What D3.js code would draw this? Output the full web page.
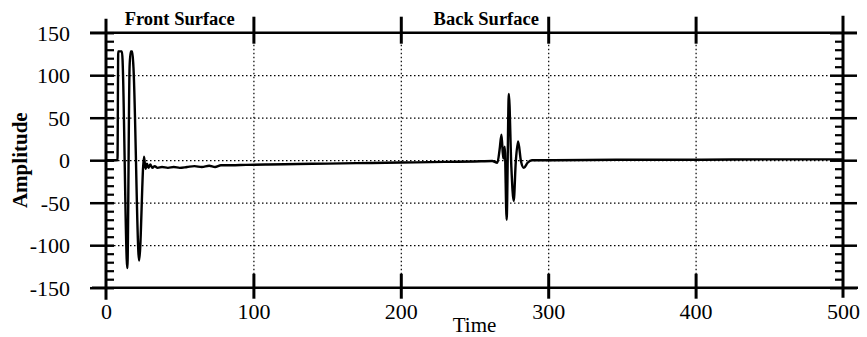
<!DOCTYPE html>
<html>
<head>
<meta charset="utf-8">
<script src="https://cdn.jsdelivr.net/npm/d3@7"></script>
<style>
  html, body { margin: 0; padding: 0; background: #fff; }
  svg { display: block; }
  text { font-family: "Liberation Serif", "Times New Roman", serif; fill: #000; }
</style>
</head>
<body>
<div id="chart"></div>
<script>
// signal (time vs amplitude)
const timeValues = [
  0, 7.8, 8.3, 10.8, 14.5, 16.0, 16.8, 17.8, 18.6, 22.5, 25.8, 26.8, 27.8, 28.8,
  30, 31.5, 33, 35, 38, 42, 46, 50, 55, 60, 65, 70, 74, 78, 85, 95, 110, 130,
  150, 170, 190, 210, 230, 250, 262, 265.5, 267, 268.3, 269.5, 270.5, 271.8,
  273.3, 275, 276.6, 278, 279.6, 281.5, 283.5, 286, 289, 300, 350, 400, 450, 500
];
const amplitudeValues = [
  0, 0, 128, 128, -127, 110, 128, 128, 110, -118, 4, -10, -4, -9,
  -5, -9, -7, -9, -8, -9, -8, -9, -8, -7, -8, -6.5, -8, -6, -6, -5.5, -5, -4.5,
  -4, -3.5, -3, -2.5, -2, -1.5, -1, -3, 12, 30, 2, 16, -70,
  78, -8, -48, -2, 22, -1, -9, -3, 0, 0, 0.5, 0.5, 1, 1
];

const xTicks = [0, 100, 200, 300, 400, 500];
const yTicks = [-150, -100, -50, 0, 50, 100, 150];
const yMinorTicks = d3.range(-150, 151, 10).filter(v => v % 50 !== 0);
const xGrid = [100, 200, 300, 400];
const yGrid = [-100, -50, 0, 50, 100];
const surfaceLabels = ["Front Surface", "Back Surface"];
const surfaceLabelTimes = [50, 258];

const width = 867, height = 337;
const margin = { top: 32.7, right: 24, bottom: 49.3, left: 106 };
const w = width - margin.left - margin.right;
const h = height - margin.top - margin.bottom;

const svg = d3.select("#chart").append("svg")
  .attr("width", width)
  .attr("height", height);

const g = svg.append("g")
  .attr("transform", `translate(${margin.left},${margin.top})`);

const x = d3.scaleLinear().domain([0, 500]).range([0, w]);
const y = d3.scaleLinear().domain([-150, 150]).range([h, 0]);

// plain hyphen like the original, not the unicode minus
const fmt = d => String(d);

// dotted grid
const gridX = g.append("g")
  .call(d3.axisBottom(x).tickValues(xGrid).tickSize(h).tickFormat(""));
gridX.select(".domain").remove();
gridX.selectAll("line")
  .attr("stroke", "#000").attr("stroke-width", 1.2).attr("stroke-dasharray", "1.5,2.5");

const gridY = g.append("g")
  .call(d3.axisLeft(y).tickValues(yGrid).tickSize(-w).tickFormat(""));
gridY.select(".domain").remove();
gridY.selectAll("line")
  .attr("stroke", "#000").attr("stroke-width", 1.2).attr("stroke-dasharray", "1.5,2.5");

// frame lines
const frame = g.append("g").attr("stroke", "#000");
frame.append("line")
  .attr("x1", x(0) - 16).attr("x2", x(500) + 14)
  .attr("y1", y(150)).attr("y2", y(150)).attr("stroke-width", 2.5);
frame.append("line")
  .attr("x1", x(0) - 14).attr("x2", x(500) + 15)
  .attr("y1", y(-150)).attr("y2", y(-150)).attr("stroke-width", 2.5);
frame.append("line")
  .attr("x1", x(0)).attr("x2", x(0))
  .attr("y1", y(150) - 14).attr("y2", y(-150) + 12).attr("stroke-width", 3);
frame.append("line")
  .attr("x1", x(500)).attr("x2", x(500))
  .attr("y1", y(150) - 17).attr("y2", y(-150) + 10).attr("stroke-width", 3);

function styleTicks(sel, width) {
  sel.select(".domain").remove();
  sel.selectAll("line").attr("stroke", "#000").attr("stroke-width", width);
}

// left axis: labels + crossing major ticks, inward minor ticks
const leftAxis = g.append("g")
  .call(d3.axisLeft(y).tickValues(yTicks).tickSize(16).tickPadding(20).tickFormat(fmt));
styleTicks(leftAxis, 2.5);
leftAxis.selectAll("line").attr("x1", 8);
leftAxis.selectAll("text")
  .attr("font-size", 22).attr("x", -36).attr("dy", "0.34em");

const leftMinor = g.append("g")
  .call(d3.axisLeft(y).tickValues(yMinorTicks).tickSize(-8).tickFormat(""));
styleTicks(leftMinor, 2.2);

// right axis
const rightAxis = g.append("g")
  .attr("transform", `translate(${w},0)`)
  .call(d3.axisRight(y).tickValues(yTicks).tickSize(14).tickFormat(""));
styleTicks(rightAxis, 2.5);
rightAxis.selectAll("line").attr("x1", -13);

const rightMinor = g.append("g")
  .attr("transform", `translate(${w},0)`)
  .call(d3.axisRight(y).tickValues(yMinorTicks).tickSize(-8).tickFormat(""));
styleTicks(rightMinor, 2.2);

// top axis
const topAxis = g.append("g")
  .call(d3.axisTop(x).tickValues(xGrid).tickSize(16).tickFormat(""));
styleTicks(topAxis, 3);
topAxis.selectAll("line").attr("y1", 11);

// bottom axis with labels
const bottomAxis = g.append("g")
  .attr("transform", `translate(0,${h})`)
  .call(d3.axisBottom(x).tickValues(xTicks).tickSize(11).tickPadding(4).tickFormat(fmt));
styleTicks(bottomAxis, 3);
bottomAxis.selectAll(".tick")
  .filter(d => d === 0 || d === 500)
  .select("line").remove();
bottomAxis.selectAll("line").attr("y1", -14);
bottomAxis.selectAll("text")
  .attr("font-size", 22).attr("y", 31.5).attr("dy", 0);

// signal
const points = timeValues.map((t, i) => [t, amplitudeValues[i]]);
const line = d3.line()
  .x(d => x(d[0]))
  .y(d => y(d[1]))
  .curve(d3.curveMonotoneX);

g.append("path")
  .datum(points)
  .attr("d", line)
  .attr("fill", "none")
  .attr("stroke", "#000")
  .attr("stroke-width", 2.4)
  .attr("stroke-linejoin", "round");

// annotations
g.selectAll(".surface")
  .data(surfaceLabels)
  .join("text")
    .attr("class", "surface")
    .attr("x", (d, i) => x(surfaceLabelTimes[i]))
    .attr("y", -8)
    .attr("text-anchor", "middle")
    .attr("font-size", 18.5)
    .attr("font-weight", "bold")
    .text(d => d);

svg.append("text")
  .attr("x", margin.left + x(250))
  .attr("y", 332)
  .attr("text-anchor", "middle")
  .attr("font-size", 21)
  .text("Time");

svg.append("text")
  .attr("transform", `translate(27,${margin.top + y(0)}) rotate(-90)`)
  .attr("text-anchor", "middle")
  .attr("font-size", 21)
  .attr("font-weight", "bold")
  .text("Amplitude");
</script>
</body>
</html>
